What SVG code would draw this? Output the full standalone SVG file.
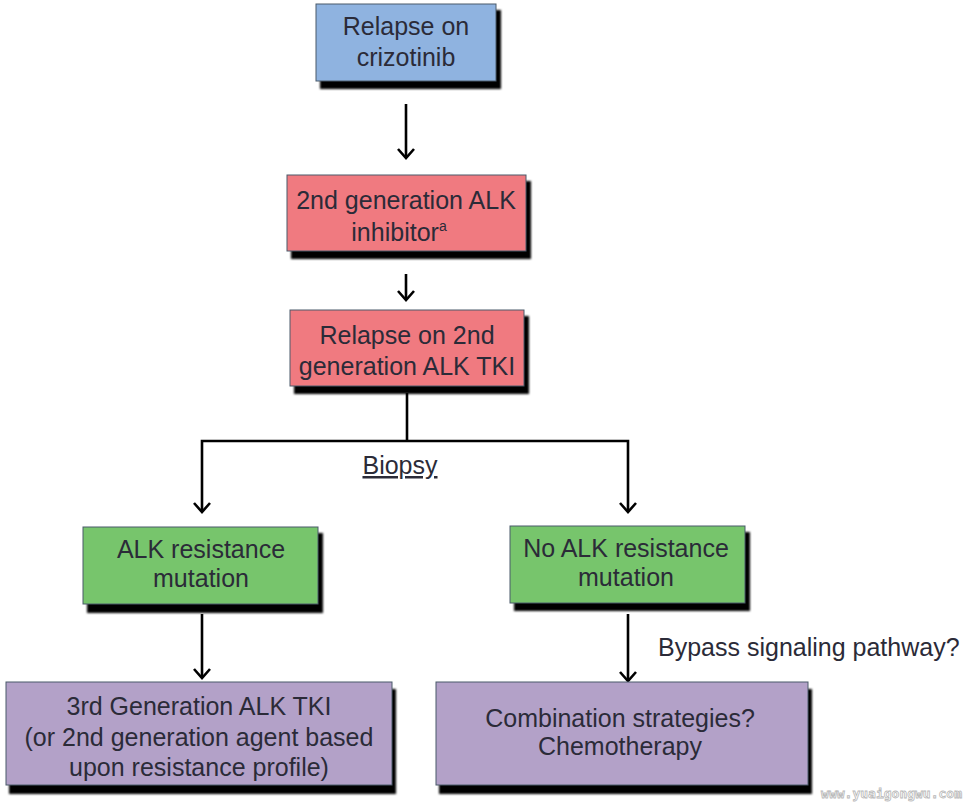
<svg xmlns="http://www.w3.org/2000/svg" width="970" height="805" viewBox="0 0 970 805">
<defs>
<filter id="sh" x="-10%" y="-10%" width="130%" height="140%">
<feGaussianBlur stdDeviation="1.3"/>
</filter>
<marker id="ah" viewBox="0 0 20 20" refX="18" refY="10" markerWidth="20" markerHeight="20" markerUnits="userSpaceOnUse" orient="auto-start-reverse">
<path d="M9,2 L18,10 L9,18" fill="none" stroke="#000" stroke-width="2.6"/>
</marker>
</defs>
<style>
.box{stroke:#4a5a6a;stroke-width:1}
.shadow{fill:#000;filter:url(#sh)}
.t{font-family:"Liberation Sans",Arial,sans-serif;font-size:25px;fill:#2b2b38;text-anchor:middle}
.c{fill:none;stroke:#000;stroke-width:2.6}
.blue{fill:#8fb3e0}
.red{fill:#f07a80}
.green{fill:#77c56c}
.purple{fill:#b3a1c8}
</style>
<rect width="970" height="805" fill="#fff"/>
<g id="connectors">
<line class="c" x1="406" y1="104" x2="406" y2="158" marker-end="url(#ah)"/>
<line class="c" x1="406" y1="274" x2="406" y2="300" marker-end="url(#ah)"/>
<polyline class="c" points="407,393 407,441"/>
<polyline class="c" points="202,512 202,441 628,441 628,512" marker-start="url(#ah)" marker-end="url(#ah)"/>
<line class="c" x1="202" y1="614" x2="202" y2="678" marker-end="url(#ah)"/>
<line class="c" x1="628" y1="614" x2="628" y2="681" marker-end="url(#ah)"/>
<text class="t" x="400" y="474" style="text-decoration:underline">Biopsy</text>
<text class="t" x="658" y="656" style="text-anchor:start">Bypass signaling pathway?</text>
</g>
<g id="n1">
<rect class="shadow" x="320" y="10" width="181" height="79"/>
<rect class="box blue" x="316" y="4" width="180" height="77"/>
<text class="t" x="406" y="35">Relapse on</text>
<text class="t" x="406" y="66">crizotinib</text>
</g>
<g id="n2">
<rect class="shadow" x="291" y="181" width="240" height="78"/>
<rect class="box red" x="287" y="175" width="239" height="76"/>
<text class="t" x="406" y="209">2nd generation ALK</text>
<text class="t" x="399" y="241">inhibitor<tspan dy="-10" font-size="14">a</tspan></text>
</g>
<g id="n3">
<rect class="shadow" x="294" y="316" width="235" height="78"/>
<rect class="box red" x="290" y="310" width="234" height="76"/>
<text class="t" x="407" y="344">Relapse on 2nd</text>
<text class="t" x="407" y="375">generation ALK TKI</text>
</g>
<g id="n4">
<rect class="shadow" x="87" y="533" width="236" height="80"/>
<rect class="box green" x="83" y="527" width="235" height="77"/>
<text class="t" x="201" y="558">ALK resistance</text>
<text class="t" x="201" y="587">mutation</text>
</g>
<g id="n5">
<rect class="shadow" x="514" y="532" width="236" height="79"/>
<rect class="box green" x="510" y="526" width="235" height="77"/>
<text class="t" x="626" y="557">No ALK resistance</text>
<text class="t" x="626" y="586">mutation</text>
</g>
<g id="n6">
<rect class="shadow" x="9" y="689" width="387" height="105"/>
<rect class="box purple" x="6" y="682" width="386" height="103"/>
<text class="t" x="199" y="715">3rd Generation ALK TKI</text>
<text class="t" x="199" y="746">(or 2nd generation agent based</text>
<text class="t" x="199" y="776">upon resistance profile)</text>
</g>
<g id="n7">
<rect class="shadow" x="439" y="689" width="373" height="105"/>
<rect class="box purple" x="436" y="682" width="372" height="103"/>
<text class="t" x="620" y="727">Combination strategies?</text>
<text class="t" x="620" y="755">Chemotherapy</text>
</g>
<text x="962" y="798" font-family="'DejaVu Sans Mono',monospace" font-size="13" font-weight="bold" fill="#fff" stroke="#b8b8b8" stroke-width="0.8" text-anchor="end">www.yuaigongwu.com</text>
</svg>
